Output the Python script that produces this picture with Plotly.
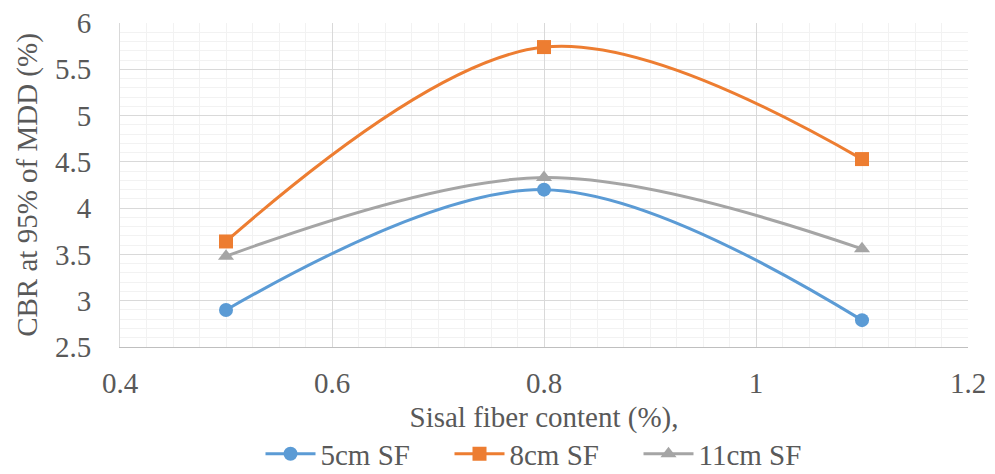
import plotly.graph_objects as go

x_vals = [0.5, 0.8, 1.1]
series_names = ["5cm SF", "8cm SF", "11cm SF"]
sf5 = [2.90, 4.20, 2.79]
sf8 = [3.64, 5.74, 4.53]
sf11 = [3.48, 4.33, 3.56]

colors = ["#5b9bd5", "#ed7d31", "#a5a5a5"]
symbols = ["circle", "square", "triangle-up"]
font_family = "Liberation Serif"
FS = 29

fig = go.Figure()
for name, ys, c, s in zip(series_names, [sf5, sf8, sf11], colors, symbols):
    fig.add_trace(go.Scatter(
        x=x_vals, y=ys, name=name, mode="lines+markers",
        line=dict(color=c, width=3, shape="spline", smoothing=1),
        marker=dict(color=c, symbol=s, size=14),
    ))

fig.update_layout(
    width=995, height=474,
    margin=dict(l=120, r=27, t=23, b=127, autoexpand=False),
    plot_bgcolor="white", paper_bgcolor="white",
    font=dict(family=font_family, size=FS, color="#595959"),
    legend=dict(orientation="h", x=0.5, xanchor="center", y=-0.33, yanchor="middle",
                font=dict(family=font_family, size=FS, color="#595959"),
                itemwidth=50, entrywidth=124, entrywidthmode="pixels", tracegroupgap=0),
    xaxis=dict(
        range=[0.4, 1.2], dtick=0.2, tickformat="~g",
        showgrid=True, gridcolor="#d9d9d9", gridwidth=1,
        minor=dict(dtick=0.025, showgrid=True, gridcolor="#f2f2f2"),
        showline=True, linecolor="#bfbfbf", linewidth=1,
        zeroline=False, ticks="", ticklabelstandoff=10, automargin=False,
        tickfont=dict(family=font_family, size=FS, color="#595959"),
        title=dict(text="Sisal fiber content (%),", font=dict(family=font_family, size=FS, color="#595959"), standoff=8),
    ),
    yaxis=dict(
        range=[2.5, 6], dtick=0.5, tickformat="~g",
        showgrid=True, gridcolor="#d9d9d9", gridwidth=1,
        minor=dict(dtick=0.1, showgrid=True, gridcolor="#f2f2f2"),
        showline=True, linecolor="#d9d9d9", linewidth=1,
        zeroline=False, ticks="", ticklabelstandoff=22, automargin=False,
        tickfont=dict(family=font_family, size=FS, color="#595959"),
        title=dict(text="CBR at 95% of MDD (%)", font=dict(family=font_family, size=FS, color="#595959"), standoff=8),
    ),
)

fig.write_html("out.html")
